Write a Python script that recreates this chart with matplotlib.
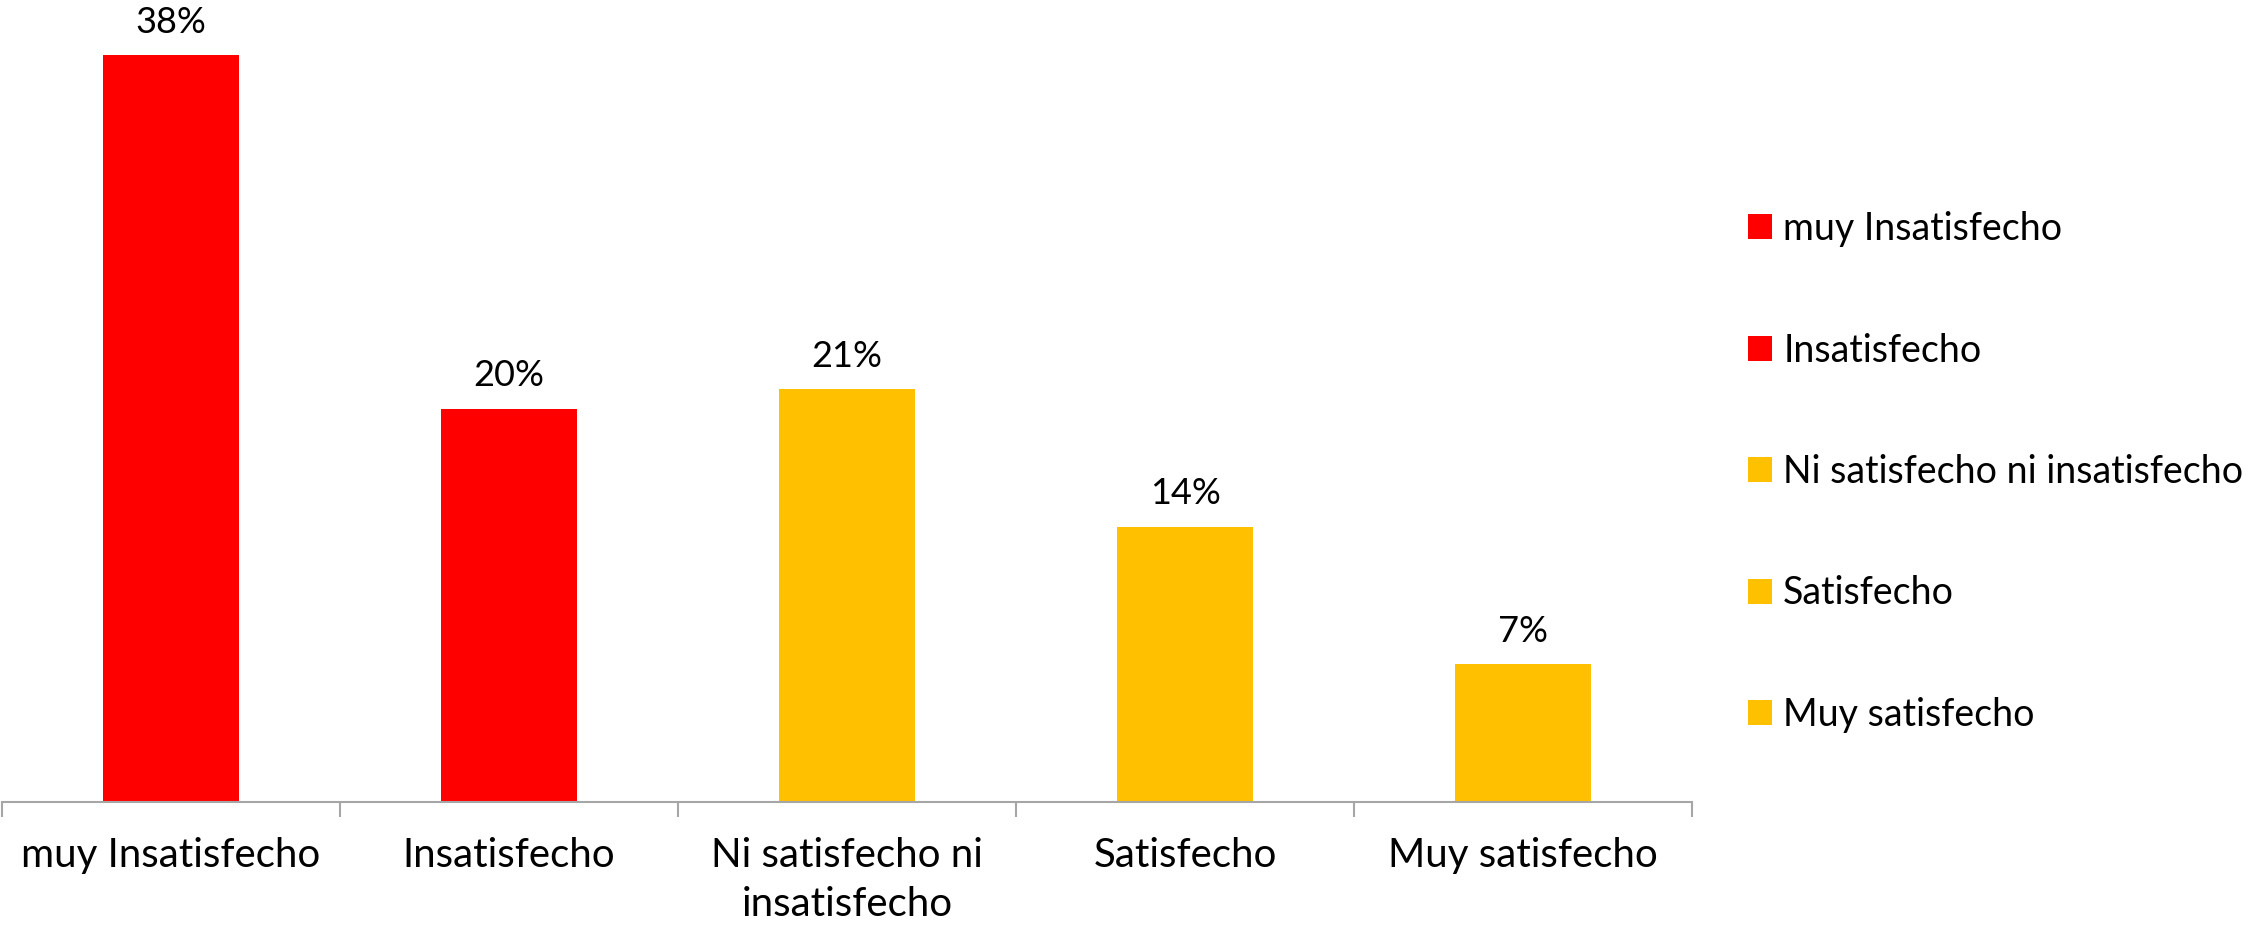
import numpy as np
import matplotlib.pyplot as plt

categories = ["muy Insatisfecho", "Insatisfecho", "Ni satisfecho ni insatisfecho",
              "Satisfecho", "Muy satisfecho"]
tick_labels = ["muy Insatisfecho", "Insatisfecho", "Ni satisfecho ni\ninsatisfecho",
               "Satisfecho", "Muy satisfecho"]
values = [38, 20, 21, 14, 7]
colors = ["#FF0000", "#FF0000", "#FFC000", "#FFC000", "#FFC000"]

plt.rcParams['font.family'] = ['Lato', 'DejaVu Sans']

W, H = 2266, 927
fig = plt.figure(figsize=(W / 100, H / 100), dpi=100)
# axes box in pixel terms: x 2..1692, baseline at y=802
ax = fig.add_axes([2 / W, (H - 802) / H, 1690 / W, (802 - 16) / H])

x = np.arange(len(values))
bars = ax.bar(x, values, width=0.4, color=colors)

for xi, v in zip(x, values):
    ax.annotate(f"{v}%", (xi, v), xytext=(0, 12), textcoords="offset points",
                ha="center", va="bottom", fontsize=26)

ax.set_xlim(-0.5, len(values) - 0.5)
ax.set_ylim(0, 40)
ax.set_yticks([])
for s in ["top", "right", "left"]:
    ax.spines[s].set_visible(False)
ax.spines["bottom"].set_color("#A6A6A6")
ax.spines["bottom"].set_linewidth(1.5)

# ticks sit between categories, labels centred under bars
ax.set_xticks(np.arange(len(values) + 1) - 0.5)
ax.set_xticklabels([])
ax.tick_params(axis="x", direction="out", length=11, width=1.5, color="#A6A6A6")
ax.set_xticks(x, minor=True)
ax.set_xticklabels(tick_labels, minor=True, fontsize=29, linespacing=1.4)
ax.tick_params(axis="x", which="minor", length=0, pad=25)

fig.legend(bars, categories, loc="center left", bbox_to_anchor=(1748 / W, (927 - 472) / H),
           frameon=False, fontsize=27, handlelength=0.64, handleheight=0.64,
           handletextpad=0.3, labelspacing=2.28, borderpad=0, borderaxespad=0)

fig.savefig("out.png", dpi=100)
